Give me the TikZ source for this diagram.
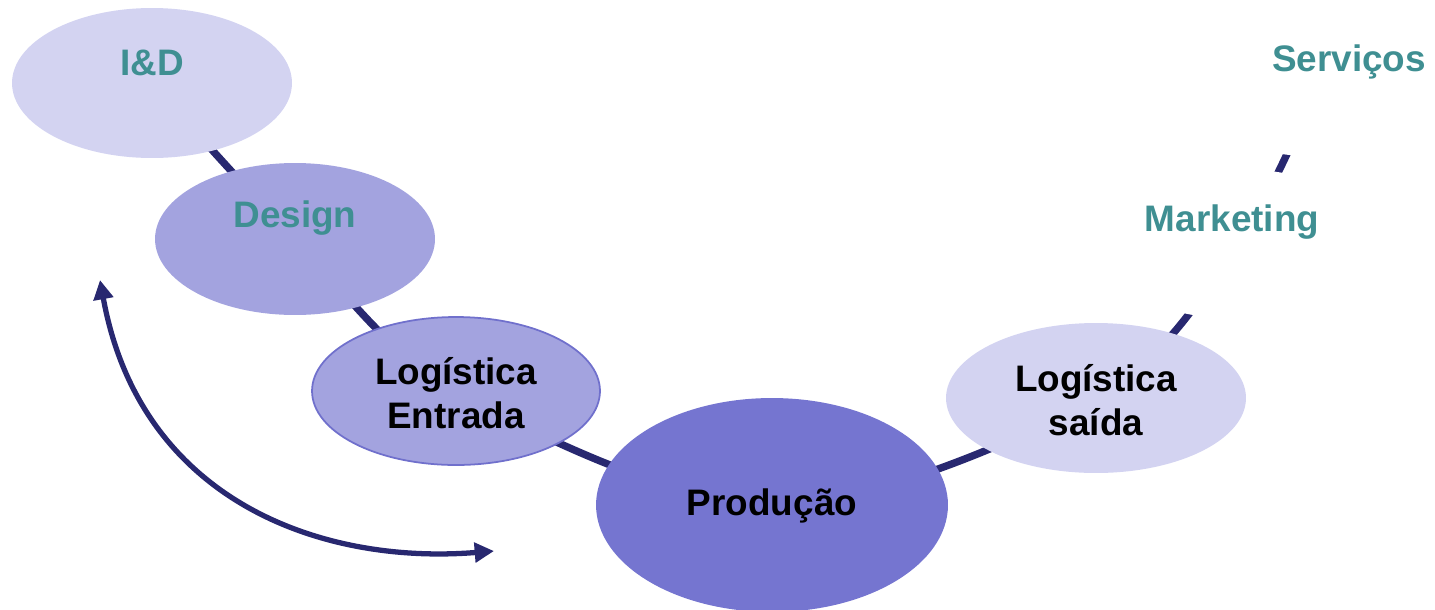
\documentclass[tikz,border=0pt]{standalone}
\usepackage{fontspec}
\setmainfont{Liberation Sans}
\usetikzlibrary{shapes.geometric,backgrounds,arrows.meta}
\definecolor{lightlav}{HTML}{D3D3F1}
\definecolor{midlav}{HTML}{A3A3DF}
\definecolor{darklav}{HTML}{7575D0}
\definecolor{lavborder}{HTML}{7070CC}
\definecolor{navy}{HTML}{282870}
\definecolor{teal}{HTML}{3F8F92}
\tikzset{
  stage/.style={ellipse, draw=none, inner sep=0pt},
  lbl/.style={font=\fontsize{21}{25}\selectfont\bfseries, align=center, inner sep=0pt},
  tlbl/.style={lbl, text=teal},
  chain/.style={draw=navy, line width=4.2pt},
  cycle/.style={draw=navy, line width=3pt, {Triangle[length=11pt,width=11pt]}-{Triangle[length=11pt,width=11pt]}}
}
\begin{document}
\begin{tikzpicture}[x=0.02cm,y=-0.02cm]
\useasboundingbox (0,0) rectangle (1435,609);
\clip (0,0) rectangle (1435,609);
% stages
\node[stage, fill=lightlav, minimum width=5.6cm, minimum height=3cm] (id) at (152,83) {};
\node[stage, fill=midlav, minimum width=5.6cm, minimum height=3.04cm] (design) at (295,239) {};
\node[stage, fill=midlav, draw=lavborder, line width=1pt, minimum width=5.76cm, minimum height=2.96cm] (loge) at (456,391) {};
\node[stage, fill=darklav, minimum width=7.04cm, minimum height=4.28cm] (prod) at (772,505) {};
\node[stage, fill=lightlav, minimum width=6cm, minimum height=3cm] (logs) at (1096,398) {};
\node[stage, fill=white, minimum width=5.6cm, minimum height=3cm] (mkt) at (1238,244) {};
\node[stage, fill=white, minimum width=5.6cm, minimum height=2.9cm] (serv) at (1318,84) {};
% texts
\node[tlbl] (tid) at (152,63) {I\&D};
\node[tlbl] (tdesign) at (295,218) {Design};
\node[lbl] (tloge) at (456,393) {Logística\\Entrada};
\node[lbl] (tprod) at (772,506) {Produção};
\node[lbl] (tlogs) at (1096,400) {Logística\\saída};
\node[tlbl] (tmkt) at (1232,222) {Marketing};
\node[tlbl] (tserv) at (1349,62) {Serviços};
% chain curve behind stages
\begin{pgfonlayer}{background}
\draw[chain] plot[smooth, tension=0.55] coordinates {(id.center) (design.center) (loge.center) (prod.center) (logs.center) (mkt.center) (serv.center)};
\end{pgfonlayer}
% cycle arrow
\coordinate (a1) at (100,280);
\coordinate (a2) at (494,551);
\draw[cycle] (a1) .. controls (140,500) and (320,565) .. (a2);
\end{tikzpicture}
\end{document}
